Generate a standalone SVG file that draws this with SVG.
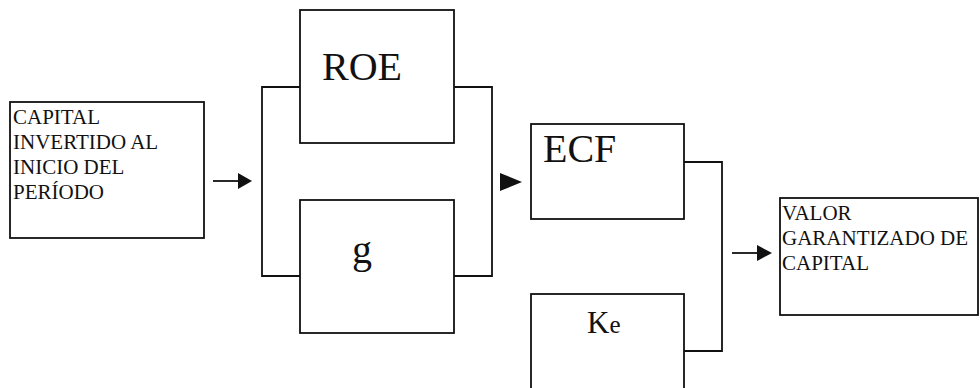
<svg xmlns="http://www.w3.org/2000/svg" width="980" height="388" viewBox="0 0 980 388">
  <style>
    .box { fill: #fff; stroke: #111; stroke-width: 1.8; }
    .wire { fill: none; stroke: #111; stroke-width: 1.8; }
    .head { fill: #111; }
    .small { font-family: "Liberation Serif", "Times New Roman", serif; font-size: 21px; fill: #111; }
    .big { font-family: "Liberation Serif", "Times New Roman", serif; font-size: 40px; fill: #111; }
  </style>
  <rect width="980" height="388" fill="#fff"/>

  <!-- connectors -->
  <g id="connectors">
    <path class="wire" d="M300,87 H262 V276 H300"/>
    <path class="wire" d="M454,87 H492 V276 H454"/>
    <path class="wire" d="M684,162 H722 V351 H684"/>
    <line class="wire" x1="213" y1="181" x2="240" y2="181"/>
    <polygon class="head" points="238,173 252,181 238,189"/>
    <polygon class="head" points="500,173 522,182 500,191"/>
    <line class="wire" x1="732" y1="253" x2="759" y2="253"/>
    <polygon class="head" points="757,245 772,253 757,261"/>
  </g>

  <g id="capital">
    <rect class="box" x="10" y="102" width="194" height="136"/>
    <text class="small" x="13" y="124">CAPITAL</text>
    <text class="small" x="13" y="149">INVERTIDO AL</text>
    <text class="small" x="13" y="174">INICIO DEL</text>
    <text class="small" x="13" y="199">PERÍODO</text>
  </g>

  <g id="roe">
    <rect class="box" x="300" y="10" width="154" height="133"/>
    <text class="big" x="322" y="80">ROE</text>
  </g>

  <g id="g">
    <rect class="box" x="300" y="200" width="154" height="133"/>
    <text class="big" x="352" y="263">g</text>
  </g>

  <g id="ecf">
    <rect class="box" x="531" y="124" width="153" height="95"/>
    <text class="big" x="543" y="162">ECF</text>
  </g>

  <g id="ke">
    <rect class="box" x="531" y="294" width="153" height="110"/>
    <text font-family="Liberation Serif, Times New Roman, serif" fill="#111" x="587" y="333"><tspan font-size="31">K</tspan><tspan font-size="25">e</tspan></text>
  </g>

  <g id="valor">
    <rect class="box" x="780" y="198" width="198" height="117"/>
    <text class="small" x="782" y="220">VALOR</text>
    <text class="small" x="782" y="245">GARANTIZADO DE</text>
    <text class="small" x="782" y="270">CAPITAL</text>
  </g>
</svg>
